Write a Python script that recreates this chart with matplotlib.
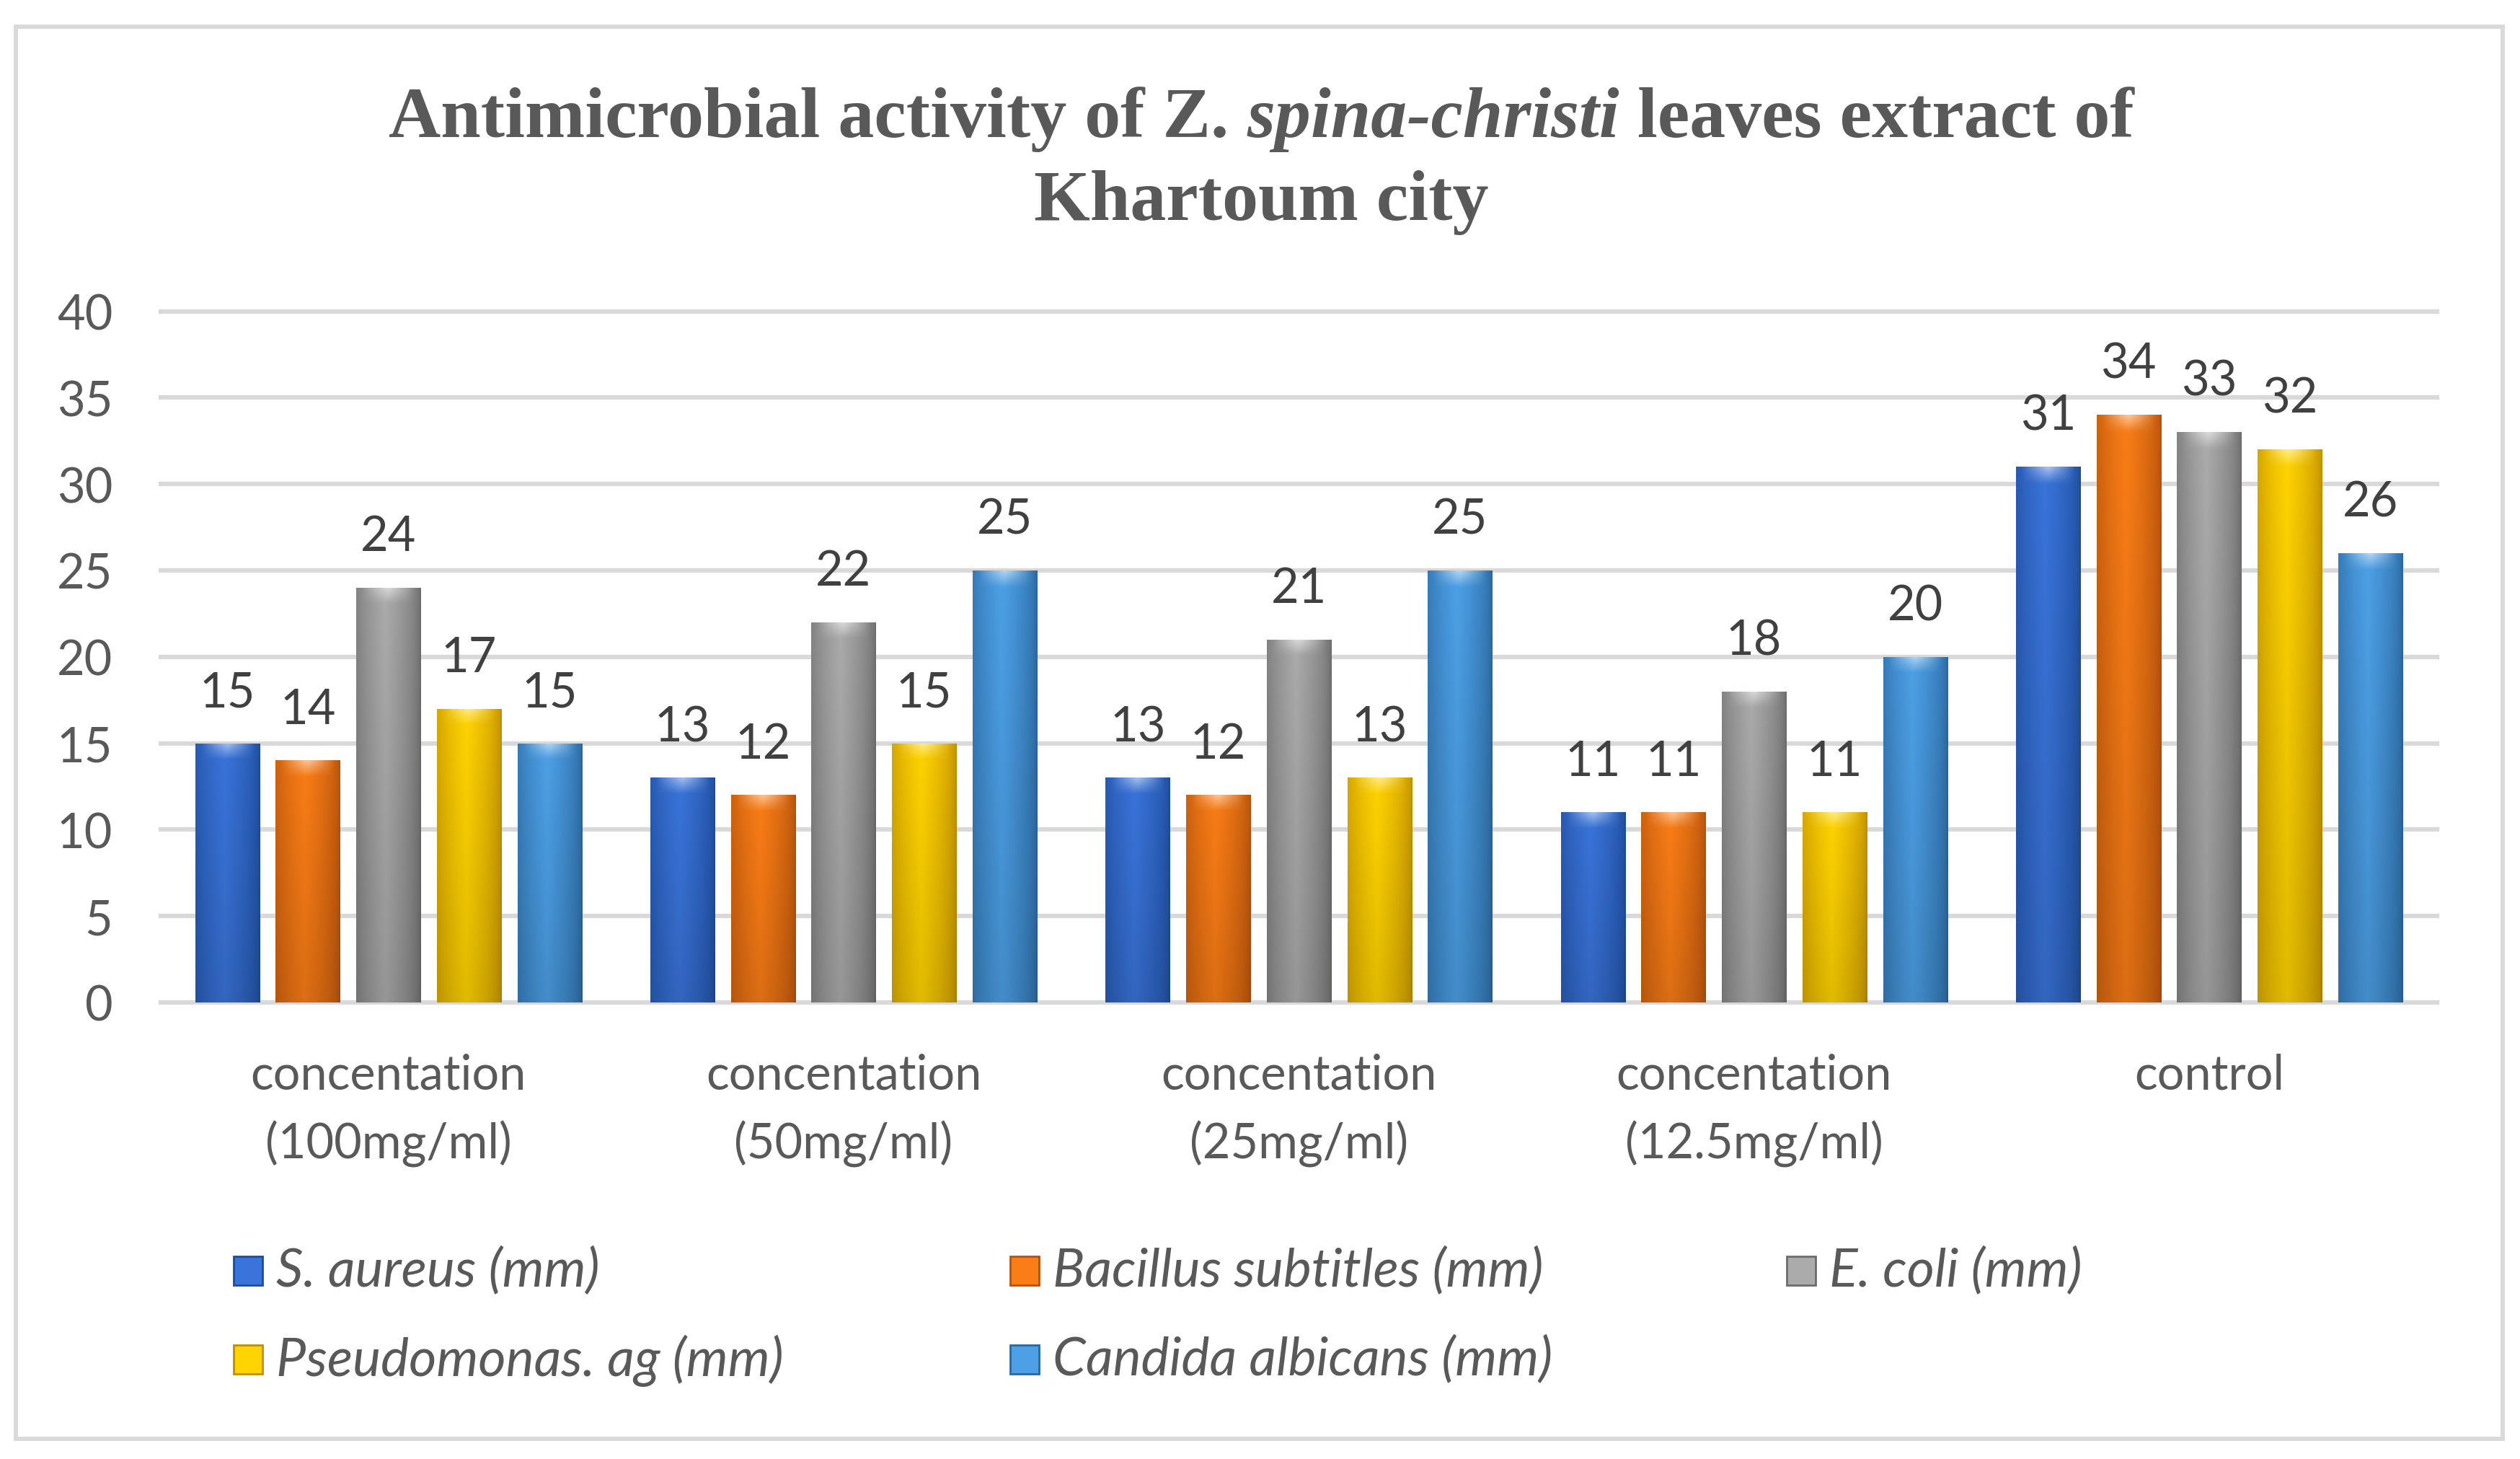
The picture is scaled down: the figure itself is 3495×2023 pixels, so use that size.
import numpy as np
import matplotlib
matplotlib.use("Agg")
import matplotlib.pyplot as plt
from matplotlib.colors import to_rgb
from matplotlib.patches import Rectangle

# data
categories = ["concentation\n(100mg/ml)", "concentation\n(50mg/ml)",
              "concentation\n(25mg/ml)", "concentation\n(12.5mg/ml)", "control"]
series_names = ["S. aureus (mm)", "Bacillus subtitles (mm)", "E. coli (mm)",
                "Pseudomonas. ag (mm)", "Candida albicans (mm)"]
s_aureus = [15, 13, 13, 11, 31]
bacillus = [14, 12, 12, 11, 34]
e_coli = [24, 22, 21, 18, 33]
pseudomonas = [17, 15, 13, 11, 32]
candida = [15, 25, 25, 20, 26]
y_ticks = [0, 5, 10, 15, 20, 25, 30, 35, 40]

series_values = [s_aureus, bacillus, e_coli, pseudomonas, candida]
# (center colour, edge colour) for the shiny bars
bar_colors = [("#3A74DA", "#1E4C9C"),
              ("#FA7D16", "#B4520C"),
              ("#ABABAB", "#6C6C6C"),
              ("#FFD400", "#C08E00"),
              ("#4DA0E6", "#2A679F")]

FONT = "Lato"
TXT = "#595959"
FS = 48

fig = plt.figure(figsize=(34.95, 20.24), dpi=100)
fig.patch.set_facecolor("white")

# chart frame
fig.patches.append(Rectangle((0.0063, 0.014), 0.9867, 0.967, transform=fig.transFigure,
                             fill=False, edgecolor="#D9D9D9", linewidth=4.2))

ax = fig.add_axes([0.0638, 0.3128, 0.9032, 0.4735])

n_cat = len(categories)
n_ser = len(series_values)
x = np.arange(n_cat)
step = 0.177
width = 0.141

for i, (vals, (cc, ec)) in enumerate(zip(series_values, bar_colors)):
    pos = x + (i - (n_ser - 1) / 2) * step
    bars = ax.bar(pos, vals, width=width, color=cc, edgecolor="none", zorder=3)
    c, e = np.array(to_rgb(cc)), np.array(to_rgb(ec))
    for b, v in zip(bars, vals):
        x0, w, h = b.get_x(), b.get_width(), b.get_height()
        nx, ny = 60, 200
        u = np.linspace(0, 1, nx)
        # darker at the sides, brightest a little left of centre
        prof = np.clip(1 - np.abs(u - 0.45) / 0.55, 0, 1) ** 0.6
        row = e[None, :] + (c - e)[None, :] * prof[:, None]
        img = np.repeat(row[None, :, :], ny, axis=0)
        yy = np.linspace(0, h, ny)
        shade = 0.88 + 0.12 * (yy / max(h, 1e-9))
        img = img * shade[:, None, None]
        # light bevel at the top
        top = np.clip(1 - (h - yy) / 0.9, 0, 1)
        bevel = np.clip(1 - np.abs(u - 0.5) / 0.42, 0, 1)
        mix = (top[:, None] * bevel[None, :] * 0.55)[:, :, None]
        img = img * (1 - mix) + mix
        im = ax.imshow(np.clip(img, 0, 1), extent=[x0, x0 + w, 0, h], origin="lower",
                       aspect="auto", interpolation="bilinear", zorder=3.5)
        im.set_clip_path(b)
        ax.annotate(str(v), (b.get_x() + w / 2, h), xytext=(0, 37),
                    textcoords="offset points", ha="center", va="baseline",
                    fontsize=FS, family=FONT, color="#404040")

ax.set_xlim(-0.5, n_cat - 0.5)
ax.set_ylim(0, 40)
ax.set_yticks(y_ticks)
ax.set_xticks(x)
ax.set_xticklabels(categories, linespacing=1.6)
for lab in ax.get_xticklabels() + ax.get_yticklabels():
    lab.set_family(FONT)
    lab.set_fontsize(FS)
    lab.set_color(TXT)
ax.tick_params(axis="both", length=0)
ax.tick_params(axis="x", pad=50)
ax.tick_params(axis="y", pad=48)
for sp in ax.spines.values():
    sp.set_visible(False)
ax.yaxis.grid(True, color="#D9D9D9", linewidth=4.5, zorder=0)
for gl in ax.get_ygridlines():
    gl.set_clip_on(False)
ax.set_axisbelow(True)
ax.set_facecolor("none")

# title with italic species name
renderer = fig.canvas.get_renderer()
parts = [("Antimicrobial activity of Z. ", "normal"), ("spina-christi", "italic"),
         (" leaves extract of", "normal")]
tsize = 72
tfont = "Liberation Serif"
objs = []
for s, st in parts:
    t = fig.text(0, 0.918, s, fontsize=tsize, family=tfont, weight="bold",
                 style=st, color=TXT, va="center", ha="left")
    objs.append(t)
widths = [t.get_window_extent(renderer).width / fig.bbox.width for t in objs]
xs = 0.5006 - sum(widths) / 2
for t, w in zip(objs, widths):
    t.set_x(xs)
    xs += w
fig.text(0.5006, 0.861, "Khartoum city", fontsize=tsize, family=tfont, weight="bold",
         color=TXT, va="center", ha="center")

# legend laid out like the spreadsheet one (3 columns)
col_x = [324 / 3495, 1401 / 3495, 2478 / 3495]
row_y = [0.129, 0.068]
mw, mh = 40 / 3495, 40 / 2024
for k, (name, (cc, ec)) in enumerate(zip(series_names, bar_colors)):
    r, cidx = divmod(k, 3)
    lx, ly = col_x[cidx], row_y[r]
    fig.patches.append(Rectangle((lx, ly - mh / 2), mw, mh, transform=fig.transFigure,
                                 facecolor=cc, edgecolor=ec, linewidth=2))
    fig.text(lx + 59 / 3495, ly, name, fontsize=53, family=FONT, style="italic",
             color=TXT, va="center", ha="left")

fig.savefig("out.png", dpi=100, facecolor="white")
